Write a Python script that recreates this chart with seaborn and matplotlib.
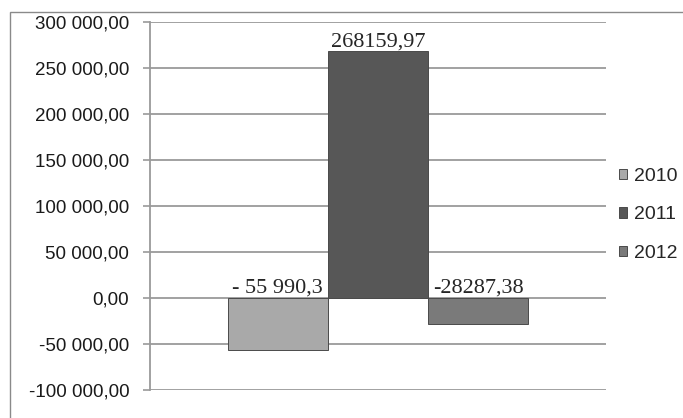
import pandas as pd
import numpy as np
import matplotlib
matplotlib.use("Agg")
import matplotlib.pyplot as plt
from matplotlib.patches import Rectangle
import seaborn as sns

# Data
years = ["2010", "2011", "2012"]
values = [-55990.3, 268159.97, -28287.38]
value_labels = ["- 55 990,3", "268159,97", "-28287,38"]
bar_colors = ["#a9a9a9", "#575757", "#7a7a7a"]
y_ticks = [-100000, -50000, 0, 50000, 100000, 150000, 200000, 250000, 300000]
y_tick_labels = ["-100 000,00", "-50 000,00", "0,00", "50 000,00", "100 000,00",
                 "150 000,00", "200 000,00", "250 000,00", "300 000,00"]

df = pd.DataFrame({"group": [""] * 3, "Year": years, "Value": values})

sns.set_style("white")
plt.rcParams['font.family'] = ['Liberation Sans', 'DejaVu Sans']

fig = plt.figure(figsize=(6.83, 4.18), dpi=100)
ax = fig.add_axes([150 / 683, 1 - 390 / 418, 456 / 683, 368 / 418])

sns.barplot(data=df, x="group", y="Value", hue="Year", palette=bar_colors,
            width=0.66, ax=ax, edgecolor="#4a4a4a", linewidth=0.7,
            saturation=1, legend=True)

ax.set_xlim(-0.5, 0.5)
ax.set_ylim(-100000, 300000)
ax.set_yticks(y_ticks)
ax.set_yticklabels(y_tick_labels, fontsize=13.5, color="#1a1a1a")
ax.set_xticks([])
ax.set_xlabel("")
ax.set_ylabel("")
ax.tick_params(axis="y", length=5, width=1.2, color="#9a9a9a", pad=10, left=True)

# gridlines
ax.set_axisbelow(True)
ax.yaxis.grid(True, color="#9a9a9a", linewidth=1.3)
for side in ["top", "right", "bottom"]:
    ax.spines[side].set_visible(False)
ax.spines["left"].set_color("#9a9a9a")
ax.spines["left"].set_linewidth(1.3)

# value labels (negative ones sit above zero)
for patch, txt, v in zip(ax.patches, value_labels, values):
    cx = patch.get_x() + patch.get_width() / 2
    ax.annotate(txt, (cx, max(v, 0)), xytext=(0, 0), textcoords="offset points",
                ha="center", va="bottom", fontsize=16, family="Liberation Serif")

ax.legend(loc="center left", bbox_to_anchor=(609 / 683, 1 - 215 / 418),
          bbox_transform=fig.transFigure, frameon=False, borderpad=0,
          handlelength=0.45, handleheight=0.45, handletextpad=0.35,
          labelspacing=1.1, prop={"family": "Liberation Sans", "size": 14})

# outer chart frame
fig.patches.append(Rectangle((10 / 683, -0.1), 1.2, 1 - 12 / 418 + 0.1,
                             transform=fig.transFigure, fill=False,
                             edgecolor="#8a8a8a", linewidth=1.0))

fig.savefig("out.png", dpi=100)
